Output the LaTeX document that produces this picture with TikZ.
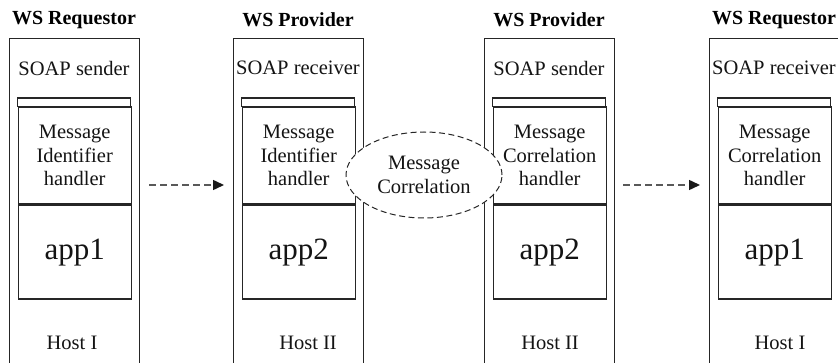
\documentclass[tikz,border=0pt]{standalone}
\usepackage{fontspec}
\setmainfont{Liberation Serif}
\usetikzlibrary{arrows.meta,shapes.geometric,calc}

\tikzset{
  hostbox/.style={draw=black!85, line width=1.1pt, minimum width=130pt,
    minimum height=345pt, anchor=north west, inner sep=0pt},
  stackbox/.style={draw=black!85, line width=1.4pt},
  coltitle/.style={font=\fontsize{20}{22}\selectfont\bfseries, text=black},
  lbl/.style={font=\fontsize{20.5}{23.5}\selectfont, align=center, text=black!92, inner sep=0pt},
  applbl/.style={font=\fontsize{31}{34}\selectfont, text=black!92, inner sep=0pt},
  flow/.style={draw=black!65, line width=1.5pt, dash pattern=on 7pt off 4pt,
    -{Triangle[length=11pt,width=10pt,color=black!90]}},
  corr/.style={ellipse, draw=black!85, line width=1pt, dash pattern=on 6pt off 3.5pt,
    fill=white, minimum width=156pt, minimum height=86pt, inner sep=0pt}
}

% #1 name, #2 left x, #3 title, #4 SOAP role, #5 handler text, #6 application, #7 host, #8 host x shift
\newcommand{\hostcolumn}[8]{%
  \node[hostbox] (o#1) at (#2,38) {};
  \node[coltitle] (t#1) at ($(o#1.north west)+(65,-18)$) {#3};
  \node[lbl] (s#1) at ($(o#1.north west)+(65,30)$) {#4};
  \draw[stackbox] ($(o#1.north west)+(8.5,60)$) rectangle ($(o#1.north west)+(121.5,68.5)$);
  \node[stackbox, minimum width=113pt, minimum height=96.5pt, anchor=north west, inner sep=0pt]
    (h#1) at ($(o#1.north west)+(8.5,68.5)$) {};
  \node[lbl] at (h#1.center) {#5};
  \node[stackbox, minimum width=113pt, minimum height=94pt, anchor=north west, inner sep=0pt]
    (a#1) at (h#1.south west) {};
  \node[applbl] at (a#1.center) {#6};
  \node[lbl] (n#1) at ($(o#1.north west)+(65+#8,305)$) {#7};
}

\begin{document}
\begin{tikzpicture}[x=1pt, y=-1pt]
\useasboundingbox (0,0) rectangle (838,363);
\clip (0,0) rectangle (838,363);

\hostcolumn{1}{9}{WS Requestor}{SOAP sender}{Message\\Identifier\\handler}{app1}{Host I}{-2}
\hostcolumn{2}{233}{WS Provider}{SOAP receiver}{Message\\Identifier\\handler}{app2}{Host II}{10}
\hostcolumn{3}{484}{WS Provider}{SOAP sender}{Message\\Correlation\\handler}{app2}{Host II}{1}
\hostcolumn{4}{709}{WS Requestor}{SOAP receiver}{Message\\Correlation\\handler}{app1}{Host I}{6}

% correlation between the two provider-side handlers
\node[corr] (mc) at (424,175) {};
\node[lbl] at (mc.center) {Message\\Correlation};

% message flow between hosts
\coordinate (f1s) at ($(o1.north east)+(9,147)$);
\coordinate (f1e) at ($(o2.north west)+(-9,147)$);
\coordinate (f2s) at ($(o3.north east)+(8,147)$);
\coordinate (f2e) at ($(o4.north west)+(-9,147)$);
\draw[flow] (f1s) -- (f1e);
\draw[flow] (f2s) -- (f2e);
\end{tikzpicture}
\end{document}
